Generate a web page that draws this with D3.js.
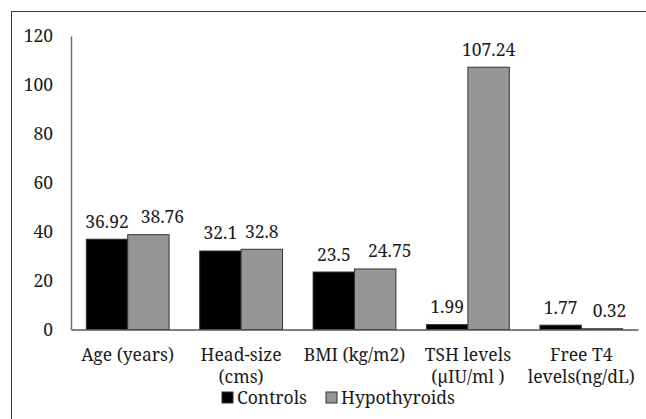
<!DOCTYPE html>
<html>
<head>
<meta charset="utf-8">
<script src="https://cdn.jsdelivr.net/npm/d3@7"></script>
<style>
  body { margin: 0; background: #fff; }
</style>
</head>
<body>
<div id="chart"></div>
<script>
// Chart data
const categories = ['Age (years)', 'Head-size (cms)', 'BMI (kg/m2)', 'TSH levels (\u00b5IU/ml )', 'Free T4 levels(ng/dL)'];
// how each category label wraps onto lines
const categoryLines = [['Age (years)'], ['Head-size', '(cms)'], ['BMI (kg/m2)'], ['TSH levels', '(\u00b5IU/ml )'], ['Free T4', 'levels(ng/dL)']];
const seriesNames = ['Controls', 'Hypothyroids'];
const controls = [36.92, 32.1, 23.5, 1.99, 1.77];
const hypothyroids = [38.76, 32.8, 24.75, 107.24, 0.32];
const valueLabels = [['36.92', '32.1', '23.5', '1.99', '1.77'], ['38.76', '32.8', '24.75', '107.24', '0.32']];
const yTicks = [0, 20, 40, 60, 80, 100, 120];

const width = 646;
const height = 419;
const colors = ['#000000', '#969696'];
const font = 'Noto Serif';
const fontSize = '17.5px';
const textColor = '#1a1a1a';
// some value labels were dragged sideways in the original so they don't collide
const labelNudge = [[0, 0, 0, 0, 0], [14, 0, 14.5, 0, 7.5]];

const svg = d3.select('#chart').append('svg')
  .attr('width', width)
  .attr('height', height);

// outer frame (runs off the right and bottom edges)
svg.append('rect')
  .attr('x', 11.5).attr('y', 11.5)
  .attr('width', 650).attr('height', 420)
  .attr('fill', 'none')
  .attr('stroke', '#3a3a3a');

// scales
const x = d3.scaleBand()
  .domain(categories)
  .range([71, 638])
  .paddingInner(0.27)
  .paddingOuter(0.135);

const x1 = d3.scaleBand()
  .domain(seriesNames)
  .range([0, x.bandwidth()]);

const y = d3.scaleLinear()
  .domain([0, 120])
  .range([329.5, 36]);

const color = d3.scaleOrdinal().domain(seriesNames).range(colors);

const series = [controls, hypothyroids];

// bars
const groups = svg.selectAll('.group')
  .data(categories)
  .enter().append('g')
  .attr('class', 'group')
  .attr('transform', d => `translate(${x(d)},0)`);

const barData = (d, i) => seriesNames.map((s, j) => ({
  s: s, v: series[j][i], label: valueLabels[j][i], nudge: labelNudge[j][i]
}));

groups.selectAll('rect')
  .data(barData)
  .enter().append('rect')
  .attr('x', d => x1(d.s))
  .attr('y', d => y(d.v))
  .attr('width', x1.bandwidth())
  .attr('height', d => y(0) - y(d.v))
  .attr('fill', d => color(d.s))
  .attr('stroke', '#333')
  .attr('stroke-width', 1);

// value labels
groups.selectAll('.val')
  .data(barData)
  .enter().append('text')
  .attr('class', 'val')
  .attr('x', d => x1(d.s) + x1.bandwidth() / 2 + d.nudge)
  .attr('y', d => y(d.v) - 11.5)
  .attr('text-anchor', 'middle')
  .attr('font-family', font)
  .attr('font-size', fontSize)
  .attr('fill', textColor)
  .text(d => d.label);

// y axis
const yAxis = svg.append('g')
  .attr('transform', `translate(${x.range()[0]},0)`)
  .call(d3.axisLeft(y).tickValues(yTicks).tickSize(0).tickPadding(18));
yAxis.select('.domain').attr('stroke', '#6f6f6f').attr('stroke-width', 1.5);
yAxis.selectAll('text')
  .attr('font-family', font)
  .attr('font-size', fontSize)
  .attr('fill', textColor)
  .attr('dy', '0.32em');

// x axis
const xAxis = svg.append('g')
  .attr('transform', `translate(0,${y(0)})`)
  .call(d3.axisBottom(x).tickSize(0).tickFormat(''));
xAxis.select('.domain').attr('stroke', '#555').attr('stroke-width', 1.5);

// category labels, wrapped
categories.forEach((c, i) => {
  const t = svg.append('text')
    .attr('x', x(c) + x.bandwidth() / 2)
    .attr('y', 361)
    .attr('text-anchor', 'middle')
    .attr('font-family', font)
    .attr('font-size', fontSize)
    .attr('fill', textColor);
  categoryLines[i].forEach((line, k) => {
    t.append('tspan')
      .attr('x', x(c) + x.bandwidth() / 2)
      .attr('dy', k === 0 ? 0 : 22)
      .text(line);
  });
});

// legend
const legendX = [222, 326];
const legend = svg.selectAll('.legend')
  .data(seriesNames)
  .enter().append('g')
  .attr('class', 'legend')
  .attr('transform', (d, i) => `translate(${legendX[i]}, 392)`);

legend.append('rect')
  .attr('width', 11)
  .attr('height', 11)
  .attr('fill', d => color(d))
  .attr('stroke', '#333');

legend.append('text')
  .attr('x', 15)
  .attr('y', 6)
  .attr('dy', '0.35em')
  .attr('font-family', font)
  .attr('font-size', fontSize)
  .attr('fill', textColor)
  .text(d => d);
</script>
</body>
</html>
